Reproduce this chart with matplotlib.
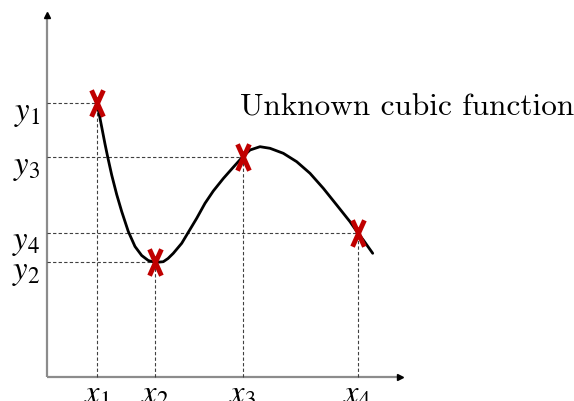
import matplotlib
matplotlib.use("Agg")
import matplotlib.pyplot as plt
from matplotlib.path import Path

plt.rcParams["mathtext.fontset"] = "stix"

# sampled points along the sketched curve
curve_x = [5.0, 5.47, 5.8, 6.07, 6.47, 6.97, 7.47, 8.13, 8.8, 9.47, 10.13,
           10.8, 11.63, 12.1, 12.63, 13.47, 14.13, 14.97, 15.8, 16.63, 17.63,
           18.63, 19.55, 20.3, 21.3, 22.3, 23.63, 24.97, 26.3, 27.63, 28.97,
           30.3, 31.05, 31.63, 32.57]
curve_y = [27.4, 25.0, 23.3, 22.0, 20.2, 18.25, 16.55, 14.55, 13.05, 12.15,
           11.65, 11.45, 11.53, 11.85, 12.37, 13.37, 14.47, 15.87, 17.37, 18.6,
           19.85, 20.98, 22.0, 22.7, 23.03, 22.87, 22.37, 21.53, 20.37, 18.87,
           17.2, 15.53, 14.45, 13.7, 12.37]

# the four sampled values
pts_x = [5.0, 10.8, 19.55, 31.05]
pts_y = [27.4, 11.5, 22.0, 14.45]
x_labels = ["$x_1$", "$x_2$", "$x_3$", "$x_4$"]
y_labels = ["$y_1$", "$y_2$", "$y_3$", "$y_4$"]

x_end, y_end = 35.3, 36.2

fig = plt.figure(figsize=(5.74, 4.01), dpi=100)
ax = fig.add_axes([0, 0, 1, 1])
ax.set_xlim(-4.7, 52.7)
ax.set_ylim(-2.4, 37.7)
ax.axis("off")

# axes with arrow heads
ax.plot([0, x_end], [0, 0], color="#8c8c8c", lw=1.6, solid_capstyle="butt")
ax.plot([0, 0], [0, y_end], color="#8c8c8c", lw=1.6, solid_capstyle="butt")
ax.plot([x_end], [0], marker=">", color="black", ms=5)
ax.plot([0], [y_end], marker="^", color="black", ms=5)

# guide lines
for px, py in zip(pts_x, pts_y):
    ax.plot([0, px], [py, py], ls=(0, (3, 2)), color="#404040", lw=0.8)
    ax.plot([px, px], [0, py], ls=(0, (3, 2)), color="#404040", lw=0.8)

ax.plot(curve_x, curve_y, color="black", lw=2.0, solid_joinstyle="round",
        solid_capstyle="round")

cross = Path([(-0.45, -1), (0.45, 1), (-0.45, 1), (0.45, -1)],
             [Path.MOVETO, Path.LINETO, Path.MOVETO, Path.LINETO])
ax.plot(pts_x, pts_y, ls="none", marker=cross, ms=19, mew=3.5,
        color="#c00000")

for px, lab in zip(pts_x, x_labels):
    ax.text(px, -0.05, lab, ha="center", va="top", fontsize=23.5)
for py, lab in zip(pts_y, y_labels):
    ax.text(-0.7, py - 0.9, lab, ha="right", va="center", fontsize=23.5)

ax.text(19.3, 26.9, "Unknown cubic function", fontfamily="cmr10",
        fontsize=22.5, ha="left", va="center")

fig.savefig("out.png", dpi=100)
